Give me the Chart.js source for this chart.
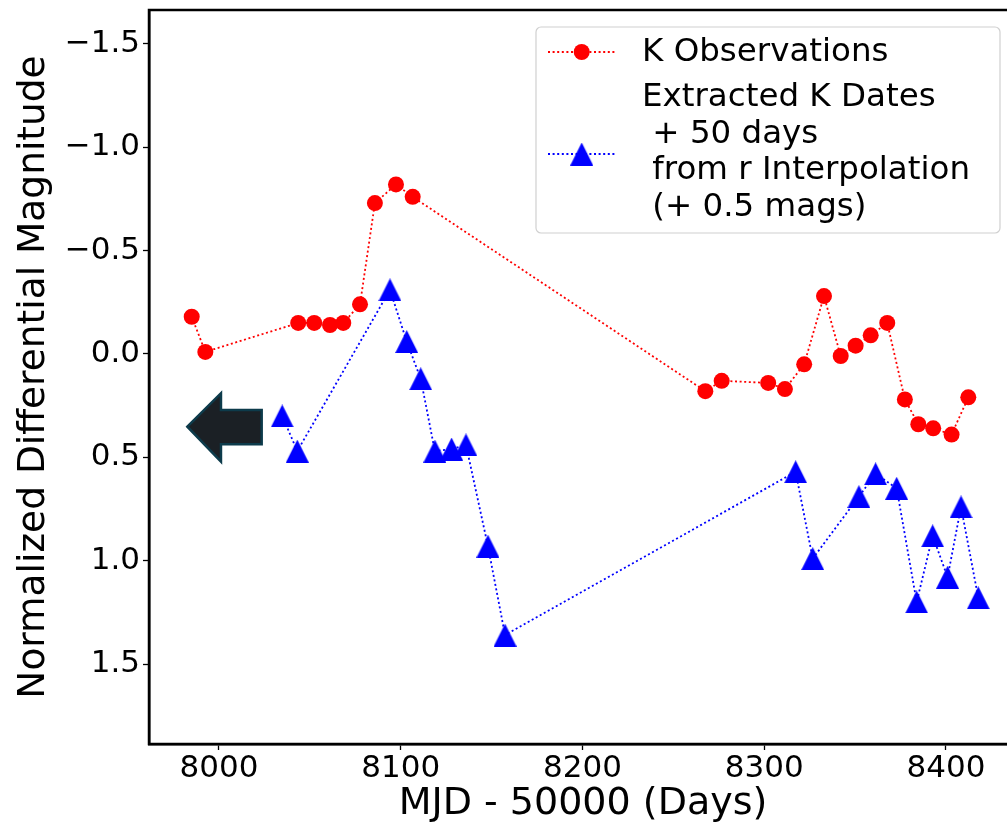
<!DOCTYPE html>
<html>
<head>
<meta charset="utf-8">
<script src="https://cdn.jsdelivr.net/npm/chart.js@4.4.0/dist/chart.umd.min.js"></script>
<style>
  html, body { margin: 0; padding: 0; background: #fff; overflow: hidden; }
  #wrap { width: 1020px; height: 828px; }
</style>
</head>
<body>
<div id="wrap"><canvas id="lightCurve" width="1020" height="828"></canvas></div>
<script>
// K band observations (MJD - 50000, normalized differential magnitude)
const kDays = [7985.0, 7992.5, 8043.6, 8052.4, 8061.1, 8068.4, 8077.6, 8085.8, 8097.4, 8106.6,
               8267.6, 8276.6, 8302.2, 8311.4, 8322.0, 8332.9, 8342.1, 8350.3, 8358.6, 8367.7,
               8377.4, 8384.8, 8393.0, 8403.1, 8412.3];
const kMags = [-0.18, -0.01, -0.15, -0.15, -0.14, -0.15, -0.24, -0.73, -0.82, -0.76,
               0.18, 0.13, 0.14, 0.17, 0.05, -0.28, 0.01, -0.04, -0.09, -0.15,
               0.22, 0.34, 0.36, 0.39, 0.21];

// K dates shifted by +50 days, magnitudes from the r interpolation (+0.5 mag)
const shiftedDays = [8034.8, 8043.1, 8094.1, 8103.3, 8111.0, 8118.8, 8128.0, 8135.9, 8148.0, 8157.4,
                     8317.3, 8326.7, 8352.1, 8361.3, 8372.9, 8383.9, 8392.7, 8400.9, 8408.3, 8417.8];
const shiftedMags = [0.30, 0.47, -0.31, -0.06, 0.12, 0.47, 0.46, 0.44, 0.93, 1.36,
                     0.57, 0.99, 0.69, 0.58, 0.65, 1.20, 0.88, 1.08, 0.74, 1.18];

const xTicks = [8000, 8100, 8200, 8300, 8400];
const yTicks = [-1.5, -1.0, -0.5, 0.0, 0.5, 1.0, 1.5];

const legendLabels = [
    ['K Observations'],
    ['Extracted K Dates', ' + 50 days', ' from r Interpolation', ' (+ 0.5 mags)']
];

const X_MIN = 7961.5, X_MAX = 8439.1;
const Y_MIN = -1.664, Y_MAX = 1.887;
const FONT = 'DejaVu Sans';

function makeTriangle(size, color) {
    const c = document.createElement('canvas');
    c.width = size;
    c.height = size;
    const g = c.getContext('2d');
    g.fillStyle = color;
    g.beginPath();
    g.moveTo(size / 2, 0);
    g.lineTo(size, size);
    g.lineTo(0, size);
    g.closePath();
    g.fill();
    return c;
}

const blueTriangle = makeTriangle(23, '#0000ff');

// frame on top/right like matplotlib spines
const framePlugin = {
    id: 'frame',
    afterDatasetsDraw(chart) {
        const { ctx, chartArea: a } = chart;
        ctx.save();
        ctx.strokeStyle = '#000';
        ctx.lineWidth = 2.5;
        ctx.strokeRect(a.left, a.top, a.right - a.left, a.bottom - a.top);
        ctx.restore();
    }
};

// the left-pointing arrow annotation, placed in data space
const arrowPlugin = {
    id: 'arrow',
    afterDatasetsDraw(chart) {
        const x = chart.scales.x, y = chart.scales.y;
        const pts = [
            [7982.6, 0.352], [8001.1, 0.190], [8001.1, 0.271], [8023.5, 0.271],
            [8023.5, 0.437], [8001.1, 0.437], [8001.1, 0.521]
        ];
        const ctx = chart.ctx;
        ctx.save();
        ctx.beginPath();
        pts.forEach(function (p, i) {
            const px = x.getPixelForValue(p[0]);
            const py = y.getPixelForValue(p[1]);
            if (i === 0) ctx.moveTo(px, py); else ctx.lineTo(px, py);
        });
        ctx.closePath();
        ctx.fillStyle = '#1b2025';
        ctx.fill();
        ctx.lineWidth = 2.5;
        ctx.lineJoin = 'miter';
        ctx.strokeStyle = '#0d3b4b';
        ctx.stroke();
        ctx.restore();
    }
};

// matplotlib style legend box
const legendPlugin = {
    id: 'mplLegend',
    afterDraw(chart) {
        const ctx = chart.ctx;
        const box = { left: 536, top: 27, right: 1000, bottom: 233 };
        ctx.save();
        ctx.beginPath();
        ctx.roundRect(box.left, box.top, box.right - box.left, box.bottom - box.top, 5);
        ctx.fillStyle = 'rgba(255,255,255,0.85)';
        ctx.fill();
        ctx.strokeStyle = '#d0d0d0';
        ctx.lineWidth = 1.2;
        ctx.stroke();

        const rows = [
            { y: 52, color: '#ff0000', lines: legendLabels[0], firstY: 53 },
            { y: 154, color: '#0000ff', lines: legendLabels[1], firstY: 98 }
        ];
        rows.forEach(function (row, i) {
            ctx.beginPath();
            ctx.setLineDash([2, 2.6]);
            ctx.lineWidth = 1.8;
            ctx.strokeStyle = row.color;
            ctx.moveTo(548, row.y);
            ctx.lineTo(615, row.y);
            ctx.stroke();
            ctx.setLineDash([]);
            if (i === 0) {
                ctx.beginPath();
                ctx.arc(581.7, row.y, 8, 0, Math.PI * 2);
                ctx.fillStyle = row.color;
                ctx.fill();
            } else {
                ctx.drawImage(blueTriangle, 581.7 - 11.5, row.y - 11.5);
            }
            ctx.fillStyle = '#000';
            ctx.font = '32.5px "' + FONT + '"';
            ctx.textBaseline = 'middle';
            ctx.textAlign = 'left';
            row.lines.forEach(function (t, j) {
                ctx.fillText(t, 642, row.firstY + j * 36.5);
            });
        });
        ctx.restore();
    }
};

const chart = new Chart(document.getElementById('lightCurve'), {
    type: 'scatter',
    data: {
        datasets: [
            {
                label: 'K Observations',
                data: kDays.map((d, i) => ({ x: d, y: kMags[i] })),
                showLine: true,
                borderColor: '#ff0000',
                borderWidth: 1.8,
                borderDash: [2, 2.6],
                pointStyle: 'circle',
                pointRadius: 8,
                pointHoverRadius: 8,
                pointBackgroundColor: '#ff0000',
                pointBorderWidth: 0,
                order: 2
            },
            {
                label: 'Extracted K Dates + 50 days from r Interpolation (+ 0.5 mags)',
                data: shiftedDays.map((d, i) => ({ x: d, y: shiftedMags[i] })),
                showLine: true,
                borderColor: '#0000ff',
                borderWidth: 1.8,
                borderDash: [2, 2.6],
                pointStyle: blueTriangle,
                pointRadius: 12,
                pointBackgroundColor: '#0000ff',
                pointBorderWidth: 0,
                order: 1
            }
        ]
    },
    options: {
        responsive: false,
        animation: false,
        devicePixelRatio: 1,
        layout: { autoPadding: false, padding: { top: 10, right: 3, left: 0, bottom: 0 } },
        plugins: {
            legend: { display: false },
            tooltip: { enabled: false }
        },
        scales: {
            x: {
                type: 'linear',
                min: X_MIN,
                max: X_MAX,
                afterBuildTicks: s => { s.ticks = xTicks.map(v => ({ value: v })); },
                afterFit: s => {
                    s.height = 84;
                    s.paddingLeft = 0;
                    s.paddingRight = 0;
                },
                grid: { drawOnChartArea: false, drawTicks: true, tickLength: 6, tickWidth: 1.3, tickColor: '#000' },
                border: { display: true, color: '#000', width: 2.5 },
                ticks: {
                    color: '#000',
                    font: { family: FONT, size: 31 },
                    padding: 0,
                    maxRotation: 0,
                    autoSkip: false,
                    callback: v => String(v)
                },
                title: {
                    display: true,
                    text: 'MJD - 50000 (Days)',
                    color: '#000',
                    font: { family: FONT, size: 38, lineHeight: 1 },
                    padding: { top: 0, bottom: 5 }
                }
            },
            y: {
                type: 'linear',
                reverse: true,
                min: Y_MIN,
                max: Y_MAX,
                afterBuildTicks: s => { s.ticks = yTicks.map(v => ({ value: v })); },
                afterFit: s => {
                    s.width = 149;
                    s.paddingTop = 0;
                    s.paddingBottom = 0;
                },
                grid: { drawOnChartArea: false, drawTicks: true, tickLength: 6, tickWidth: 1.3, tickColor: '#000' },
                border: { display: true, color: '#000', width: 2.5 },
                ticks: {
                    color: '#000',
                    font: { family: FONT, size: 31 },
                    padding: 3,
                    autoSkip: false,
                    callback: v => v.toFixed(1).replace('-', '\u2212')
                },
                title: {
                    display: true,
                    text: 'Normalized Differential Magnitude',
                    color: '#000',
                    font: { family: FONT, size: 37.5, lineHeight: 1 },
                    padding: { top: 16, bottom: 0 }
                }
            }
        }
    },
    plugins: [framePlugin, arrowPlugin, legendPlugin]
});
</script>
</body>
</html>
